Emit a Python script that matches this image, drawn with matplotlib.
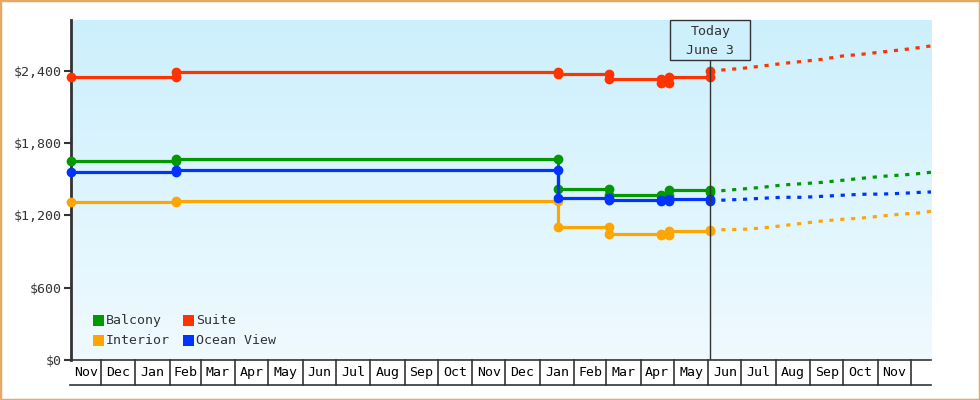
import numpy as np
import matplotlib
matplotlib.use("Agg")
import matplotlib.pyplot as plt
import matplotlib.dates as mdates
from matplotlib.patches import Rectangle
import datetime as dt

# ---------------- data ----------------
categories = ["Balcony", "Interior", "Suite", "Ocean View"]
colors = {"Balcony": "#009900", "Interior": "#ffa500", "Suite": "#ff3300", "Ocean View": "#0033ff"}

hist_dates = ["2022-11-04", "2023-02-07", "2024-01-17", "2024-03-03", "2024-04-19", "2024-04-27", "2024-06-03"]
balcony_hist = [1650, 1667, 1420, 1370, 1362, 1409, 1398]
interior_hist = [1310, 1318, 1107, 1043, 1038, 1074, 1080]
suite_hist = [2346, 2389, 2375, 2333, 2300, 2353, 2400]
ocean_hist = [1558, 1575, 1343, 1326, 1322, 1337, 1323]

fc_dates = ["2024-06-03", "2024-07-02", "2024-07-20", "2024-08-07", "2024-08-25", "2024-09-12",
            "2024-09-30", "2024-10-18", "2024-11-05", "2024-11-23", "2024-12-11", "2024-12-19"]
balcony_fc = [1398, 1420, 1434, 1453, 1464, 1475, 1492, 1509, 1525, 1536, 1550, 1559]
interior_fc = [1080, 1085, 1096, 1115, 1135, 1154, 1168, 1179, 1196, 1212, 1223, 1235]
suite_fc = [2400, 2422, 2441, 2462, 2479, 2497, 2524, 2539, 2558, 2576, 2597, 2608]
ocean_fc = [1323, 1334, 1343, 1351, 1351, 1359, 1368, 1376, 1378, 1384, 1393, 1395]

today_label = ["Today", "June 3"]
today_date = "2024-06-03"
x_start, x_end = "2022-11-04", "2024-12-19"
y_ticks = [0, 600, 1200, 1800, 2400]
y_tick_labels = ["$0", "$600", "$1,200", "$1,800", "$2,400"]
y_max = 2823

hist = {"Balcony": balcony_hist, "Interior": interior_hist, "Suite": suite_hist, "Ocean View": ocean_hist}
fc = {"Balcony": balcony_fc, "Interior": interior_fc, "Suite": suite_fc, "Ocean View": ocean_fc}

# ---------------- figure ----------------
FONT = "DejaVu Sans Mono"
TXT = "#333333"
FS = 9.5
plt.rcParams["font.family"] = [FONT, "DejaVu Sans"]

W, H = 980, 400
fig = plt.figure(figsize=(W / 100, H / 100), dpi=100)
AX_L, AX_R, AX_T, AX_B = 71, 931, 20, 360
ax = fig.add_axes([AX_L / W, (H - AX_B) / H, (AX_R - AX_L) / W, (AX_B - AX_T) / H])

to_d = lambda s: mdates.date2num(dt.datetime.strptime(s, "%Y-%m-%d"))
x0, x1 = to_d(x_start), to_d(x_end)
ax.set_xlim(x0, x1)
ax.set_ylim(0, y_max)

# gradient background
grad = np.linspace(0, 1, 256).reshape(-1, 1)
top = np.array([0.80, 0.94, 0.99])
bot = np.array([0.94, 0.98, 1.0])
img = bot[None, None, :] * (1 - grad[..., None]) + top[None, None, :] * grad[..., None]
ax.imshow(img, extent=[0, 1, 0, 1], transform=ax.transAxes, aspect="auto", origin="lower", zorder=0)

# series
for name in ["Balcony", "Interior", "Suite", "Ocean View"]:
    c = colors[name]
    d = [to_d(s) for s in hist_dates]
    v = hist[name]
    xs, ys = [d[0]], [v[0]]
    for i in range(1, len(d)):
        xs += [d[i], d[i]]
        ys += [v[i - 1], v[i]]
    ax.plot(xs, ys, color=c, lw=2.3, marker="o", ms=6.0, mec=c, mfc=c, zorder=3,
            solid_joinstyle="miter", clip_on=False)
    fd = [to_d(s) for s in fc_dates]
    ax.plot(fd, fc[name], color=c, lw=2.3, ls=(0, (1.3, 2.1)), zorder=3, dash_capstyle="butt")

# axes styling
for s in ["top", "right"]:
    ax.spines[s].set_visible(False)
ax.spines["left"].set_linewidth(2)
ax.spines["left"].set_color(TXT)
ax.spines["left"].set_zorder(2.5)
ax.spines["bottom"].set_linewidth(1.2)
ax.spines["bottom"].set_color(TXT)
ax.set_yticks(y_ticks)
ax.set_yticklabels(y_tick_labels)
ax.tick_params(axis="y", length=5, width=1.5, color=TXT, labelcolor=TXT, labelsize=FS, pad=2)
ax.set_xticks([])

# month cells below the axis
cell_h = 25 / (AX_B - AX_T)
months = []
d = dt.date(2022, 11, 1)
while d <= dt.date(2024, 12, 31):
    nd = dt.date(d.year + (d.month // 12), d.month % 12 + 1, 1)
    months.append((d, nd))
    d = nd
trans = matplotlib.transforms.blended_transform_factory(ax.transData, ax.transAxes)
for a, b in months:
    an, bn = mdates.date2num(a), mdates.date2num(b)
    lo, hi = max(an, x0), min(bn, x1)
    if hi <= lo:
        continue
    if x0 < bn < x1:
        ax.plot([bn, bn], [0, -cell_h], transform=trans, color=TXT, lw=1.2, clip_on=False)
    if hi - lo >= 22:
        ax.text((lo + hi) / 2, -cell_h / 2, a.strftime("%b"), transform=trans, ha="center",
                va="center", fontsize=FS, color="black")
ax.plot([-1 / 860, 1], [-cell_h, -cell_h], transform=ax.transAxes, color=TXT, lw=1.2, clip_on=False)

# today marker
tn = to_d(today_date)
tf = (tn - x0) / (x1 - x0)
box_top = 1.0
box_bot = (AX_B - 60.3) / (AX_B - AX_T)
ax.plot([tn, tn], [0, box_bot], transform=trans, color=TXT, lw=1, zorder=4)
hw = 40 / (AX_R - AX_L)
ax.add_patch(Rectangle((tf - hw, box_bot), 2 * hw, box_top - box_bot, transform=ax.transAxes,
                       facecolor="#cdf0fc", edgecolor=TXT, lw=1, zorder=5, clip_on=False))
ax.text(tf, (AX_B - 32) / (AX_B - AX_T), today_label[0], transform=ax.transAxes, ha="center",
        va="center", fontsize=FS, color=TXT, zorder=6)
ax.text(tf, (AX_B - 50) / (AX_B - AX_T), today_label[1], transform=ax.transAxes, ha="center",
        va="center", fontsize=FS, color=TXT, zorder=6)

# legend (manual)
def pfx(px, py):
    return (px - AX_L) / (AX_R - AX_L), (AX_B - py) / (AX_B - AX_T)

leg_pos = {"Balcony": (93, 315), "Suite": (183, 315), "Interior": (93, 335), "Ocean View": (183, 335)}
for name, (px, py) in leg_pos.items():
    x, y = pfx(px, py + 11)
    ax.add_patch(Rectangle((x, y), 11 / 860, 11 / 340, transform=ax.transAxes,
                           facecolor=colors[name], edgecolor="none", zorder=5))
    tx, ty = pfx(px + 13, py + 5.5)
    ax.text(tx, ty, name, transform=ax.transAxes, ha="left", va="center", fontsize=FS,
            color=TXT, zorder=6)

# outer border
fig.patches.append(Rectangle((0, 0), 1, 1, transform=fig.transFigure, fill=False,
                             edgecolor="#e8a865", lw=2.5))

fig.savefig("out.png", dpi=100)
